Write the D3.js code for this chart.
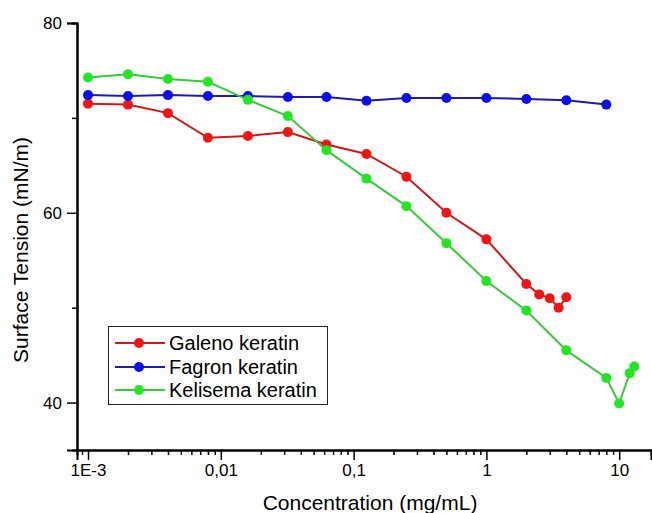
<!DOCTYPE html>
<html>
<head>
<meta charset="utf-8">
<script src="https://cdn.jsdelivr.net/npm/d3@7"></script>
<style>
  body { margin: 0; background: #fff; }
  svg { font-family: "Liberation Sans", Arial, sans-serif; }
</style>
</head>
<body>
<svg id="chart" width="652" height="513"></svg>
<script>
// concentration (mg/mL) and surface tension (mN/m)
let galenoX = [0.001, 0.002, 0.004, 0.008, 0.016, 0.032, 0.0625, 0.125, 0.25, 0.5, 1, 2, 2.5, 3, 3.5, 4];
let galenoY = [71.5, 71.4, 70.5, 67.9, 68.1, 68.5, 67.2, 66.2, 63.8, 60.0, 57.2, 52.5, 51.4, 51.0, 50.0, 51.1];

let fagronX = [0.001, 0.002, 0.004, 0.008, 0.016, 0.032, 0.0625, 0.125, 0.25, 0.5, 1, 2, 4, 8];
let fagronY = [72.4, 72.3, 72.4, 72.3, 72.3, 72.2, 72.2, 71.8, 72.1, 72.1, 72.1, 72.0, 71.85, 71.4];

let kelisemaX = [0.001, 0.002, 0.004, 0.008, 0.016, 0.032, 0.0625, 0.125, 0.25, 0.5, 1, 2, 4, 8, 10, 12, 13];
let kelisemaY = [74.25, 74.6, 74.1, 73.8, 71.9, 70.2, 66.6, 63.6, 60.7, 56.8, 52.8, 49.7, 45.5, 42.6, 39.9, 43.1, 43.8];

let seriesNames = ["Galeno keratin", "Fagron keratin", "Kelisema keratin"];

let xMajor = [0.001, 0.01, 0.1, 1, 10];
let xMajorLabels = ["1E-3", "0,01", "0,1", "1", "10"];
let yMajor = [40, 60, 80];
let yMinor = [50, 70];

let svg = d3.select("#chart");

let plotLeft = 77, plotRight = 651, plotTop = 23, plotBottom = 450;

let x = d3.scaleLog().domain([0.000826, 17.36]).range([plotLeft, plotRight]);
let y = d3.scaleLinear().domain([35, 80]).range([plotBottom, plotTop]);

// minor log ticks 2..9 per decade
let xMinor = [];
[0.0001, 0.001, 0.01, 0.1, 1, 10].forEach(d => {
    for (let k = 2; k <= 9; k++) {
        let v = d * k;
        if (v >= x.domain()[0] && v <= x.domain()[1]) xMinor.push(v);
    }
});

let series = [
    { name: seriesNames[0], xs: galenoX, ys: galenoY, line: "#cc1a1a", fill: "#f01414" },
    { name: seriesNames[1], xs: fagronX, ys: fagronY, line: "#1c1ca8", fill: "#0c0cf0" },
    { name: seriesNames[2], xs: kelisemaX, ys: kelisemaY, line: "#3cc83c", fill: "#22e622" }
];

// axes
let xAxisMinor = d3.axisBottom(x).tickValues(xMinor).tickSize(5).tickFormat("");
let xAxis = d3.axisBottom(x).tickValues(xMajor).tickSize(10).tickPadding(4)
    .tickFormat((d, i) => xMajorLabels[i]);
let yAxisMinor = d3.axisLeft(y).tickValues(yMinor).tickSize(5).tickFormat("");
let yAxis = d3.axisLeft(y).tickValues(yMajor).tickSize(10).tickPadding(5);

let gx = svg.append("g").attr("transform", `translate(0,${plotBottom})`);
gx.append("g").call(xAxisMinor);
gx.append("g").call(xAxis);
let gy = svg.append("g").attr("transform", `translate(${plotLeft},0)`);
gy.append("g").call(yAxisMinor);
gy.append("g").call(yAxis);

svg.selectAll(".domain").attr("stroke", "#000").attr("stroke-width", 2);
svg.selectAll(".tick line").attr("stroke", "#000").attr("stroke-width", 1.5);
svg.selectAll(".tick text").attr("fill", "#000").style("font-size", "17px");

// axis titles
svg.append("text")
    .attr("x", 370).attr("y", 510)
    .attr("text-anchor", "middle")
    .style("font-size", "21px")
    .text("Concentration (mg/mL)");

svg.append("text")
    .attr("transform", "translate(28,250) rotate(-90)")
    .attr("text-anchor", "middle")
    .style("font-size", "21px")
    .text("Surface Tension (mN/m)");

// lines and markers
let line = d3.line().x(d => x(d[0])).y(d => y(d[1]));

series.forEach(s => {
    let pts = s.xs.map((v, i) => [v, s.ys[i]]);
    let g = svg.append("g");
    g.append("path")
        .attr("d", line(pts))
        .attr("fill", "none")
        .attr("stroke", s.line)
        .attr("stroke-width", 2);
    g.selectAll("circle")
        .data(pts)
        .enter()
        .append("circle")
        .attr("cx", d => x(d[0]))
        .attr("cy", d => y(d[1]))
        .attr("r", 5)
        .attr("fill", s.fill);
});

// legend
let legend = svg.append("g");
legend.append("rect")
    .attr("x", 108.5).attr("y", 326.5)
    .attr("width", 219).attr("height", 78)
    .attr("fill", "#fff")
    .attr("stroke", "#222")
    .attr("stroke-width", 1);

let rowY = [343, 367, 390];
series.forEach((s, i) => {
    legend.append("line")
        .attr("x1", 115).attr("x2", 165)
        .attr("y1", rowY[i]).attr("y2", rowY[i])
        .attr("stroke", s.line).attr("stroke-width", 2);
    legend.append("circle")
        .attr("cx", 139).attr("cy", rowY[i]).attr("r", 5)
        .attr("fill", s.fill);
    legend.append("text")
        .attr("x", 169).attr("y", rowY[i] + 7)
        .style("font-size", "20px")
        .text(s.name);
});
</script>
</body>
</html>
